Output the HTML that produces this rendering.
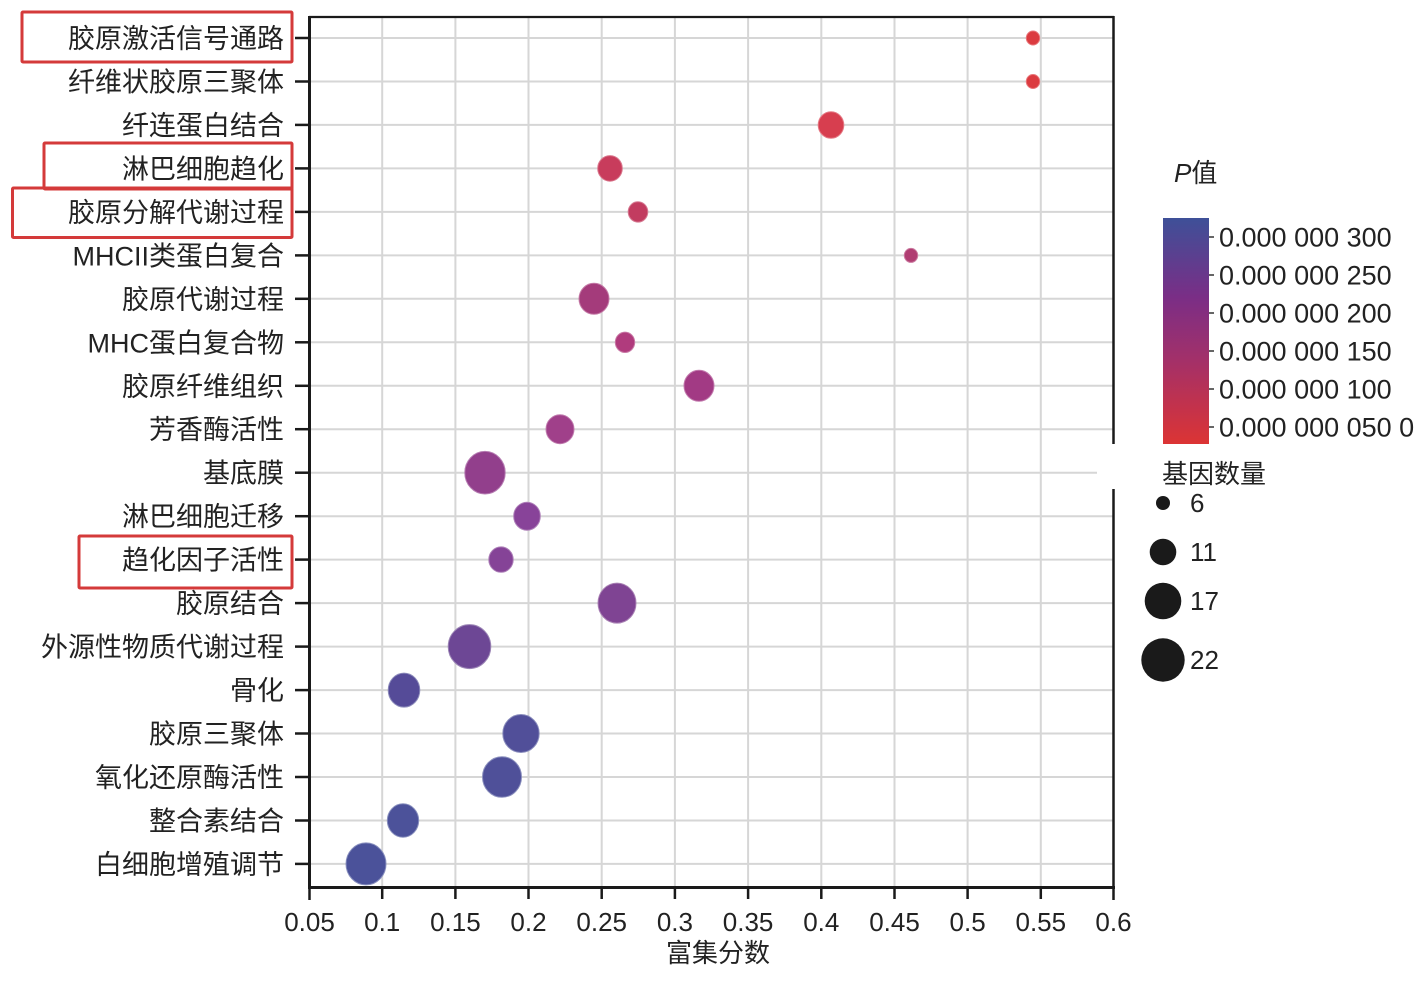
<!DOCTYPE html>
<html>
<head>
<meta charset="utf-8">
<style>
html,body{margin:0;padding:0;background:#fff;}
svg{display:block;}
text{font-family:"Liberation Sans","Noto Sans CJK SC",sans-serif;fill:#222;}
</style>
</head>
<body>
<svg width="1420" height="992" viewBox="0 0 1420 992" xmlns="http://www.w3.org/2000/svg">
<defs>
<linearGradient id="cb" x1="0" y1="0" x2="0" y2="1">
<stop offset="0" stop-color="#3e5098"/>
<stop offset="0.35" stop-color="#7a2e86"/>
<stop offset="0.62" stop-color="#a2306a"/>
<stop offset="1" stop-color="#dc3434"/>
</linearGradient>
</defs>
<rect width="1420" height="992" fill="#fff"/>

<!-- vertical grid -->
<g stroke="#d6d6d6" stroke-width="2">
<line x1="382.2" y1="17" x2="382.2" y2="887"/>
<line x1="455.4" y1="17" x2="455.4" y2="887"/>
<line x1="528.5" y1="17" x2="528.5" y2="887"/>
<line x1="601.7" y1="17" x2="601.7" y2="887"/>
<line x1="674.9" y1="17" x2="674.9" y2="887"/>
<line x1="748.1" y1="17" x2="748.1" y2="887"/>
<line x1="821.3" y1="17" x2="821.3" y2="887"/>
<line x1="894.5" y1="17" x2="894.5" y2="887"/>
<line x1="967.6" y1="17" x2="967.6" y2="887"/>
<line x1="1040.8" y1="17" x2="1040.8" y2="887"/>
</g>
<!-- horizontal grid -->
<g stroke="#d6d6d6" stroke-width="2">
<line x1="309" y1="38" x2="1114" y2="38"/>
<line x1="309" y1="81.5" x2="1114" y2="81.5"/>
<line x1="309" y1="124.9" x2="1114" y2="124.9"/>
<line x1="309" y1="168.4" x2="1114" y2="168.4"/>
<line x1="309" y1="211.9" x2="1114" y2="211.9"/>
<line x1="309" y1="255.4" x2="1114" y2="255.4"/>
<line x1="309" y1="298.8" x2="1114" y2="298.8"/>
<line x1="309" y1="342.3" x2="1114" y2="342.3"/>
<line x1="309" y1="385.8" x2="1114" y2="385.8"/>
<line x1="309" y1="429.2" x2="1114" y2="429.2"/>
<line x1="309" y1="472.7" x2="1114" y2="472.7"/>
<line x1="309" y1="516.2" x2="1114" y2="516.2"/>
<line x1="309" y1="559.6" x2="1114" y2="559.6"/>
<line x1="309" y1="603.1" x2="1114" y2="603.1"/>
<line x1="309" y1="646.6" x2="1114" y2="646.6"/>
<line x1="309" y1="690.1" x2="1114" y2="690.1"/>
<line x1="309" y1="733.5" x2="1114" y2="733.5"/>
<line x1="309" y1="777" x2="1114" y2="777"/>
<line x1="309" y1="820.5" x2="1114" y2="820.5"/>
<line x1="309" y1="863.9" x2="1114" y2="863.9"/>
</g>

<!-- bubbles -->
<g stroke-width="1">
<ellipse cx="1033" cy="38" rx="6.7" ry="7" fill="#db3b40" stroke="#e8767a"/>
<ellipse cx="1033" cy="81.5" rx="6.7" ry="7" fill="#db3b40" stroke="#e8767a"/>
<ellipse cx="831" cy="125" rx="12.8" ry="13.3" fill="#d73e4f" stroke="#e57a85"/>
<ellipse cx="610" cy="168.4" rx="12.3" ry="12.8" fill="#c83c5c" stroke="#da7a8f"/>
<ellipse cx="638" cy="211.9" rx="9.8" ry="10.2" fill="#c23c60" stroke="#d67a92"/>
<ellipse cx="911" cy="255.4" rx="6.7" ry="7" fill="#b03d72" stroke="#cb7aa0"/>
<ellipse cx="594" cy="298.8" rx="15" ry="15.5" fill="#a43b7b" stroke="#c47aa6"/>
<ellipse cx="625" cy="342.3" rx="9.7" ry="10.2" fill="#b03b7d" stroke="#c97aa6"/>
<ellipse cx="699" cy="385.8" rx="15" ry="15.5" fill="#a23a84" stroke="#c27aad"/>
<ellipse cx="560" cy="429.2" rx="14" ry="14.5" fill="#a0408a" stroke="#c07cae"/>
<ellipse cx="485" cy="472.7" rx="20.2" ry="21.3" fill="#923f8c" stroke="#b67db2"/>
<ellipse cx="527" cy="516.2" rx="13.3" ry="14" fill="#884399" stroke="#af80b9"/>
<ellipse cx="501" cy="559.6" rx="12.2" ry="12.7" fill="#854397" stroke="#ad80b8"/>
<ellipse cx="617" cy="603.1" rx="19" ry="20" fill="#7f4493" stroke="#a982b4"/>
<ellipse cx="469.5" cy="646.6" rx="21.3" ry="22" fill="#6d4795" stroke="#9c86b6"/>
<ellipse cx="404" cy="690.1" rx="15.8" ry="17" fill="#554b98" stroke="#8d8cbb"/>
<ellipse cx="521" cy="733.5" rx="18.2" ry="19" fill="#514f99" stroke="#8b8ebd"/>
<ellipse cx="502" cy="777" rx="19.5" ry="20.3" fill="#4f5099" stroke="#8a8fbd"/>
<ellipse cx="403" cy="820.5" rx="15.7" ry="16.7" fill="#4c529a" stroke="#8990be"/>
<ellipse cx="366" cy="863.9" rx="20" ry="21" fill="#4b529a" stroke="#8990be"/>
</g>

<!-- axes frame -->
<g stroke="#1a1a1a" fill="none">
<line x1="309" y1="17" x2="1114" y2="17" stroke-width="2.2"/>
<line x1="1113.5" y1="16" x2="1113.5" y2="888" stroke-width="2.5"/>
<line x1="309.5" y1="16" x2="309.5" y2="889" stroke-width="3"/>
<line x1="308" y1="887.5" x2="1115" y2="887.5" stroke-width="3"/>
</g>
<!-- y ticks -->
<g stroke="#1a1a1a" stroke-width="2.5">
<line x1="295" y1="38" x2="309" y2="38"/>
<line x1="295" y1="81.5" x2="309" y2="81.5"/>
<line x1="295" y1="124.9" x2="309" y2="124.9"/>
<line x1="295" y1="168.4" x2="309" y2="168.4"/>
<line x1="295" y1="211.9" x2="309" y2="211.9"/>
<line x1="295" y1="255.4" x2="309" y2="255.4"/>
<line x1="295" y1="298.8" x2="309" y2="298.8"/>
<line x1="295" y1="342.3" x2="309" y2="342.3"/>
<line x1="295" y1="385.8" x2="309" y2="385.8"/>
<line x1="295" y1="429.2" x2="309" y2="429.2"/>
<line x1="295" y1="472.7" x2="309" y2="472.7"/>
<line x1="295" y1="516.2" x2="309" y2="516.2"/>
<line x1="295" y1="559.6" x2="309" y2="559.6"/>
<line x1="295" y1="603.1" x2="309" y2="603.1"/>
<line x1="295" y1="646.6" x2="309" y2="646.6"/>
<line x1="295" y1="690.1" x2="309" y2="690.1"/>
<line x1="295" y1="733.5" x2="309" y2="733.5"/>
<line x1="295" y1="777" x2="309" y2="777"/>
<line x1="295" y1="820.5" x2="309" y2="820.5"/>
<line x1="295" y1="863.9" x2="309" y2="863.9"/>
</g>
<!-- x ticks -->
<g stroke="#1a1a1a" stroke-width="2.5">
<line x1="309.5" y1="887" x2="309.5" y2="900"/>
<line x1="382.2" y1="887" x2="382.2" y2="899"/>
<line x1="455.4" y1="887" x2="455.4" y2="899"/>
<line x1="528.5" y1="887" x2="528.5" y2="899"/>
<line x1="601.7" y1="887" x2="601.7" y2="899"/>
<line x1="674.9" y1="887" x2="674.9" y2="899"/>
<line x1="748.1" y1="887" x2="748.1" y2="899"/>
<line x1="821.3" y1="887" x2="821.3" y2="899"/>
<line x1="894.5" y1="887" x2="894.5" y2="899"/>
<line x1="967.6" y1="887" x2="967.6" y2="899"/>
<line x1="1040.8" y1="887" x2="1040.8" y2="899"/>
<line x1="1113.5" y1="887" x2="1113.5" y2="900"/>
</g>

<!-- white legend overlay gap -->
<rect x="1097" y="444" width="40" height="45" fill="#fff"/>

<!-- y labels -->
<g font-size="27" text-anchor="end">
<text x="284" y="48">胶原激活信号通路</text>
<text x="284" y="91.5">纤维状胶原三聚体</text>
<text x="284" y="134.9">纤连蛋白结合</text>
<text x="284" y="178.4">淋巴细胞趋化</text>
<text x="284" y="221.9">胶原分解代谢过程</text>
<text x="284" y="265.4">MHCII类蛋白复合</text>
<text x="284" y="308.8">胶原代谢过程</text>
<text x="284" y="352.3">MHC蛋白复合物</text>
<text x="284" y="395.8">胶原纤维组织</text>
<text x="284" y="439.2">芳香酶活性</text>
<text x="284" y="482.7">基底膜</text>
<text x="284" y="526.2">淋巴细胞迁移</text>
<text x="284" y="569.6">趋化因子活性</text>
<text x="284" y="613.1">胶原结合</text>
<text x="284" y="656.6">外源性物质代谢过程</text>
<text x="284" y="700.1">骨化</text>
<text x="284" y="743.5">胶原三聚体</text>
<text x="284" y="787">氧化还原酶活性</text>
<text x="284" y="830.5">整合素结合</text>
<text x="284" y="873.9">白细胞增殖调节</text>
</g>

<!-- red boxes -->
<g fill="none" stroke="#d43a3a" stroke-width="3">
<rect x="22" y="12" width="270" height="50" rx="1"/>
<rect x="44" y="143" width="248" height="46" rx="1"/>
<rect x="12.5" y="188" width="279.5" height="49.5" rx="1"/>
<rect x="79" y="536" width="213" height="52" rx="1"/>
</g>

<!-- x tick labels -->
<g font-size="26" text-anchor="middle">
<text x="309.5" y="931">0.05</text>
<text x="382.2" y="931">0.1</text>
<text x="455.4" y="931">0.15</text>
<text x="528.5" y="931">0.2</text>
<text x="601.7" y="931">0.25</text>
<text x="674.9" y="931">0.3</text>
<text x="748.1" y="931">0.35</text>
<text x="821.3" y="931">0.4</text>
<text x="894.5" y="931">0.45</text>
<text x="967.6" y="931">0.5</text>
<text x="1040.8" y="931">0.55</text>
<text x="1113.5" y="931">0.6</text>
</g>
<text x="718" y="962" font-size="26" text-anchor="middle">富集分数</text>

<!-- colorbar -->
<text x="1174" y="182" font-size="26"><tspan font-style="italic">P</tspan>值</text>
<rect x="1163" y="218" width="46" height="226" fill="url(#cb)"/>
<g stroke="#666" stroke-width="2">
<line x1="1209" y1="237" x2="1214" y2="237"/>
<line x1="1209" y1="275" x2="1214" y2="275"/>
<line x1="1209" y1="313" x2="1214" y2="313"/>
<line x1="1209" y1="351" x2="1214" y2="351"/>
<line x1="1209" y1="389" x2="1214" y2="389"/>
<line x1="1209" y1="427" x2="1214" y2="427"/>
</g>
<g font-size="27">
<text x="1219" y="246.5">0.000 000 300</text>
<text x="1219" y="284.5">0.000 000 250</text>
<text x="1219" y="322.5">0.000 000 200</text>
<text x="1219" y="360.5">0.000 000 150</text>
<text x="1219" y="398.5">0.000 000 100</text>
<text x="1219" y="436.5">0.000 000 050 0</text>
</g>

<!-- size legend -->
<text x="1162" y="483" font-size="26">基因数量</text>
<g fill="#1a1a1a">
<circle cx="1163" cy="503" r="7"/>
<circle cx="1163" cy="552" r="13.3"/>
<circle cx="1163" cy="601" r="18.3"/>
<circle cx="1163" cy="660" r="21.7"/>
</g>
<g font-size="26">
<text x="1190" y="512">6</text>
<text x="1190" y="561">11</text>
<text x="1190" y="610">17</text>
<text x="1190" y="669">22</text>
</g>
</svg>
</body>
</html>
